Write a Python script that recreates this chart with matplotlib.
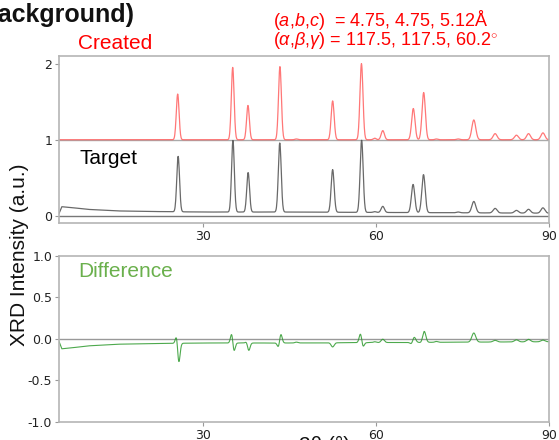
import numpy as np
import matplotlib
matplotlib.use("Agg")
import matplotlib.pyplot as plt

plt.rcParams["axes.unicode_minus"] = False
plt.rcParams["mathtext.fontset"] = "custom"
plt.rcParams["mathtext.rm"] = "Liberation Sans"
plt.rcParams["mathtext.it"] = "Liberation Sans:italic"

# peak list: 2theta (deg), created height, target height, width (sigma, deg)
PEAK_POS   = [25.6, 35.15, 37.8, 43.35, 46.2, 52.5, 57.5, 59.8, 61.2, 66.5, 68.3, 70.5, 74.3, 77.0, 80.7, 84.4, 86.5, 89.0]
CREATED_H  = [0.60, 0.95, 0.45, 0.96, 0.01, 0.51, 1.00, 0.02, 0.12, 0.41, 0.62, 0.01, 0.01, 0.26, 0.08, 0.06, 0.08, 0.09]
TARGET_H   = [0.73, 0.94, 0.52, 0.91, 0.00, 0.56, 0.95, 0.01, 0.08, 0.37, 0.50, 0.00, 0.01, 0.15, 0.06, 0.035, 0.05, 0.07]
TARGET_DX  = [0.08, 0.04, 0.03, -0.03, 0.0, 0.0, 0.03, 0.0, 0.0, -0.04, -0.03, 0.0, 0.0, 0.0, 0.0, 0.0, 0.0, 0.0]
PEAK_W     = [0.24, 0.24, 0.24, 0.25, 0.25, 0.26, 0.26, 0.25, 0.28, 0.29, 0.29, 0.25, 0.3, 0.34, 0.34, 0.34, 0.34, 0.34]
# target background (amorphous/instrument) read at a few angles
BG_X = [5.0, 5.5, 7.0, 10.0, 15.0, 20.0, 30.0, 45.0, 60.0, 75.0, 90.0]
BG_Y = [0.03, 0.12, 0.11, 0.085, 0.065, 0.058, 0.05, 0.05, 0.045, 0.04, 0.035]

XTICKS = [30, 60, 90]
LATT_ABC = (4.75, 4.75, 5.12)
LATT_ANG = (117.5, 117.5, 60.2)

tt = np.arange(5, 90.001, 0.05)

def pattern(heights, shifts=None):
    y = np.zeros_like(tt)
    for i, (p, h, w) in enumerate(zip(PEAK_POS, heights, PEAK_W)):
        dx = shifts[i] if shifts is not None else 0.0
        y += h*np.exp(-0.5*((tt-p-dx)/w)**2)
    return y

created = pattern(CREATED_H)
target  = pattern(TARGET_H, TARGET_DX) + np.interp(tt, BG_X, BG_Y)
diff    = created - target

W, H = 559, 440
fig = plt.figure(figsize=(W/100, H/100), dpi=100)
def box(l, t, r, b): return [l/W, 1-b/H, (r-l)/W, (b-t)/H]

ax1 = fig.add_axes(box(59, 56, 548.7, 222.7))
ax2 = fig.add_axes(box(59, 256, 548.7, 421.7))

ax1.axhline(1, color="#aaaaaa", lw=1.0)
ax1.axhline(0, color="#777777", lw=1.0)
ax1.plot(tt, created+1, color="#ff5555", lw=0.9, alpha=0.8)
ax1.plot(tt, target, color="#444444", lw=0.9, alpha=0.8)
ax1.set_xlim(5, 90); ax1.set_ylim(-0.09, 2.1)
ax1.set_yticks([0, 1, 2])

ax2.axhline(0, color="#999999", lw=1.0)
ax2.plot(tt, diff, color="#2e9a2e", lw=0.8, alpha=0.85)
ax2.set_xlim(5, 90); ax2.set_ylim(-1, 1)
ax2.set_yticks([-1, -0.5, 0, 0.5, 1])
ax2.set_yticklabels(["-1.0", "-0.5", "0.0", "0.5", "1.0"])

for ax in (ax1, ax2):
    ax.set_xticks(XTICKS)
    ax.tick_params(labelsize=9, colors="#222222", length=3, width=0.8, pad=2)
    ax.tick_params(axis="both", color="#999999")
    for s in ax.spines.values(): s.set_edgecolor("#b5b5b5"); s.set_linewidth(1.2)

fx = lambda x: x/W
fy = lambda y: 1-y/H
fig.text(fx(134), fy(22), "XRD pattern (with background)", ha="right", va="baseline",
         fontsize=18, fontweight="bold", family="Liberation Sans", color="#111111")
fig.text(fx(78), fy(49), "Created", fontsize=15, color="red", family="Liberation Sans", va="baseline")
fig.text(fx(79), fy(164), "Target", fontsize=15, color="black", family="Liberation Sans", va="baseline")
fig.text(fx(78), fy(277), "Difference", fontsize=15, color="#6ab04c", family="Liberation Sans", va="baseline")
fig.text(fx(273), fy(26), r"($a$,$b$,$c$)  = %.2f, %.2f, %.2fÅ" % LATT_ABC,
         fontsize=13, color="red", family="Liberation Sans", va="baseline")
fig.text(fx(273), fy(45), r"($\alpha$,$\beta$,$\gamma$) = %.1f, %.1f, %.1f$^{\circ}$" % LATT_ANG,
         fontsize=13, color="red", family="Liberation Sans", va="baseline")
fig.text(fx(19.5), fy(255), "XRD Intensity (a.u.)", rotation=90, ha="center", va="center",
         fontsize=15, family="Liberation Sans", color="#111111")
fig.text(fx(325), fy(436), "2θ (°)", ha="center", va="top", fontsize=15,
         family="Liberation Sans", color="#111111")

fig.savefig("out.png", dpi=100)
